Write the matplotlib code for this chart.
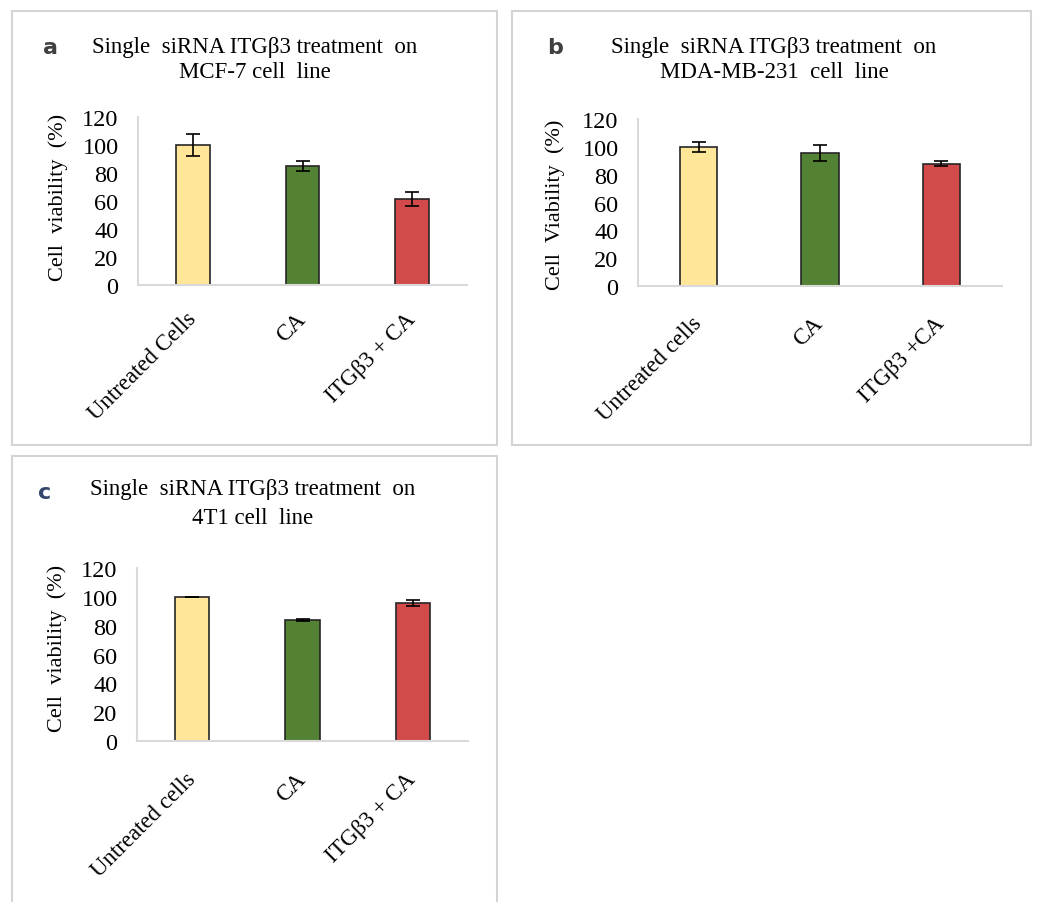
import numpy as np
import matplotlib
matplotlib.use('Agg')
from matplotlib import pyplot as plt
from matplotlib.patches import Rectangle

# Data
labels_a = ['Untreated Cells', 'CA', 'ITGβ3 + CA']
values_a = [100, 85, 61.5]
errors_a = [8, 3.8, 5]

labels_b = ['Untreated cells', 'CA', 'ITGβ3 +CA']
values_b = [100, 95.5, 88]
errors_b = [3.7, 6, 2]

labels_c = ['Untreated cells', 'CA', 'ITGβ3 + CA']
values_c = [100, 84, 95.5]
errors_c = [0, 0.8, 2]

bar_colors = ['#FFE699', '#548235', '#D24A4A']
W, H = 1041, 903

plt.rcParams['font.family'] = ['Liberation Serif', 'DejaVu Serif']

fig = plt.figure(figsize=(W / 100, H / 100), dpi=100)


def px_axes(left, top, right, bottom):
    return fig.add_axes([left / W, 1 - bottom / H, (right - left) / W, (bottom - top) / H])


def frame(left, top, right, bottom):
    fig.patches.append(Rectangle((left / W, 1 - bottom / H), (right - left) / W, (bottom - top) / H,
                                 transform=fig.transFigure, fill=False, edgecolor='#D4D4D4', lw=1.5))


def panel(ax, labels, values, errors, ylabel, lab_xy, xpad):
    x = np.arange(len(labels))
    ax.bar(x, values, width=0.31, color=bar_colors, edgecolor='#262626', linewidth=1.2, zorder=2)
    ax.errorbar(x, values, yerr=errors, fmt='none', ecolor='black', elinewidth=1.2,
                capsize=5, capthick=1.2, zorder=3)
    ax.set_xlim(-0.5, len(labels) - 0.5)
    ax.set_ylim(0, 120)
    ax.set_yticks(np.arange(0, 121, 20))
    ax.set_xticks(x)
    ax.set_xticklabels(labels, rotation=45, ha='right', va='center', rotation_mode='anchor', fontsize=16.5)
    ax.tick_params(axis='y', length=0, labelsize=17.5, pad=14)
    ax.tick_params(axis='x', length=0, pad=xpad)
    for s in ['top', 'right']:
        ax.spines[s].set_visible(False)
    for s in ['left', 'bottom']:
        ax.spines[s].set_color('#D9D9D9')
        ax.spines[s].set_linewidth(1.5)
    ax.set_ylabel(ylabel, fontsize=16, va='center')
    ax.yaxis.set_label_coords(*lab_xy)


# Panel frames
frame(12, 12, 497, 446)
frame(512, 12, 1031, 446)
frame(12, 457, 497, 905)

title_kw = dict(ha='center', va='center', fontsize=16.5)
letter_kw = dict(ha='center', va='center', fontsize=16, fontweight='bold', family='DejaVu Sans')

# a
ax_a = px_axes(138, 118, 467, 286)
panel(ax_a, labels_a, values_a, errors_a, 'Cell  viability  (%)', (-0.243, 0.53), 22)
fig.text(255 / W, 1 - 47 / H, 'Single  siRNA ITGβ3 treatment  on', **title_kw)
fig.text(255 / W, 1 - 73 / H, 'MCF-7 cell  line', **title_kw)
fig.text(50 / W, 1 - 48 / H, 'a', color='#404040', **letter_kw)

# b
ax_b = px_axes(638, 120, 1002, 287)
panel(ax_b, labels_b, values_b, errors_b, 'Cell  Viability  (%)', (-0.228, 0.49), 24)
fig.text(774 / W, 1 - 47 / H, 'Single  siRNA ITGβ3 treatment  on', **title_kw)
fig.text(774 / W, 1 - 73 / H, 'MDA-MB-231  cell  line', **title_kw)
fig.text(555 / W, 1 - 48 / H, 'b', color='#404040', **letter_kw)

# c
ax_c = px_axes(137, 569, 468, 742)
panel(ax_c, labels_c, values_c, errors_c, 'Cell  viability  (%)', (-0.242, 0.543), 25)
fig.text(253 / W, 1 - 490 / H, 'Single  siRNA ITGβ3 treatment  on', **title_kw)
fig.text(253 / W, 1 - 518 / H, '4T1 cell  line', **title_kw)
fig.text(45 / W, 1 - 493 / H, 'c', color='#34466B', **letter_kw)

fig.savefig('out.png', dpi=100)
